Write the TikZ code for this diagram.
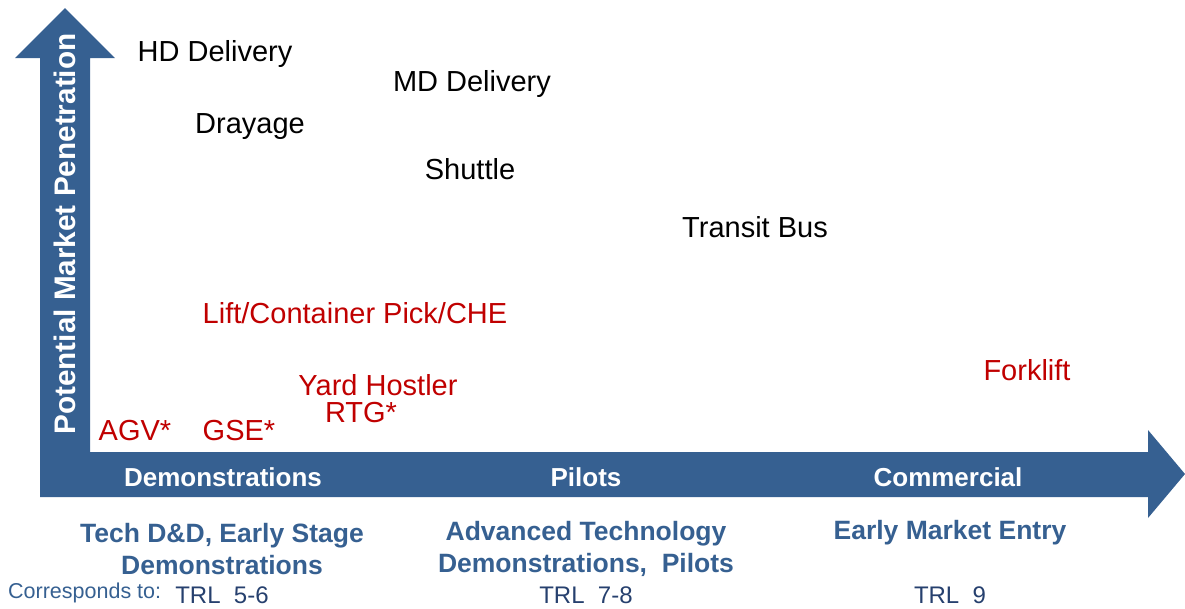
\documentclass[tikz,border=0pt]{standalone}
\usepackage{fontspec}
\setmainfont{Liberation Sans}
\definecolor{barblue}{RGB}{54,96,145}
\definecolor{txtblue}{RGB}{54,96,145}
\definecolor{trlblue}{RGB}{38,64,110}
\definecolor{segred}{RGB}{192,0,0}
\begin{document}
\begin{tikzpicture}[x=1pt,y=-1pt,
  seg/.style={font=\fontsize{29}{34}\selectfont, text=black, inner sep=0pt, anchor=center},
  redseg/.style={seg, text=segred},
  barlbl/.style={font=\bfseries\fontsize{26}{30}\selectfont, text=white, inner sep=0pt},
  stagelbl/.style={font=\bfseries\fontsize{26.5}{32}\selectfont, text=txtblue, inner sep=0pt, align=center},
  trl/.style={font=\fontsize{24}{28}\selectfont, text=trlblue, inner sep=0pt},
  arrowfill/.style={fill=barblue, draw=none}]
\useasboundingbox (0,0) rectangle (1185,608);
% axes arrows
\fill[arrowfill] (40,497) -- (40,58) -- (15,58) -- (65,8) -- (115,58) -- (90,58) -- (90,452)
  -- (1148,452) -- (1148,430) -- (1185,474) -- (1148,518) -- (1148,497) -- cycle;
\coordinate (origin) at (40,497);
% axis label
\node[font=\bfseries\fontsize{29.7}{34}\selectfont, text=white, rotate=90, inner sep=0pt] (ylbl) at (65,234) {Potential Market Penetration};
% bar labels
\node[barlbl] (demo) at (223,477) {Demonstrations};
\node[barlbl] (pilots) at (586,477) {Pilots};
\node[barlbl] (comm) at (948,477) {Commercial};
% segments
\node[seg] (hd) at (215,54) {HD Delivery};
\node[seg] (md) at (472,84) {MD Delivery};
\node[seg] (dray) at (250,127) {Drayage};
\node[seg] (shuttle) at (470,169) {Shuttle};
\node[seg] (transit) at (755,227) {Transit Bus};
\node[redseg] (lift) at (355,313) {Lift/Container Pick/CHE};
\node[redseg] (fork) at (1027,370) {Forklift};
\node[redseg] (yard) at (378,385) {Yard Hostler};
\node[redseg] (rtg) at (361,413) {RTG*};
\node[redseg] (agv) at (135,431) {AGV*};
\node[redseg] (gse) at (239,431) {GSE*};
% stage descriptions
\node[stagelbl] (s1) at (222,549) {Tech D\&D, Early Stage\\Demonstrations};
\node[stagelbl] (s2) at (586,549) {Advanced Technology\\Demonstrations,\ \ Pilots};
\node[stagelbl] (s3) at (950,533) {Early Market Entry};
% TRL
\node[font=\fontsize{21.5}{25}\selectfont, text=txtblue, inner sep=0pt, anchor=west] (corr) at (8,593) {Corresponds to:};
\node[trl] (t1) at (222,595) {TRL\ \ 5-6};
\node[trl] (t2) at (586,595) {TRL\ \ 7-8};
\node[trl] (t3) at (950,595) {TRL\ \ 9};
\end{tikzpicture}
\end{document}
